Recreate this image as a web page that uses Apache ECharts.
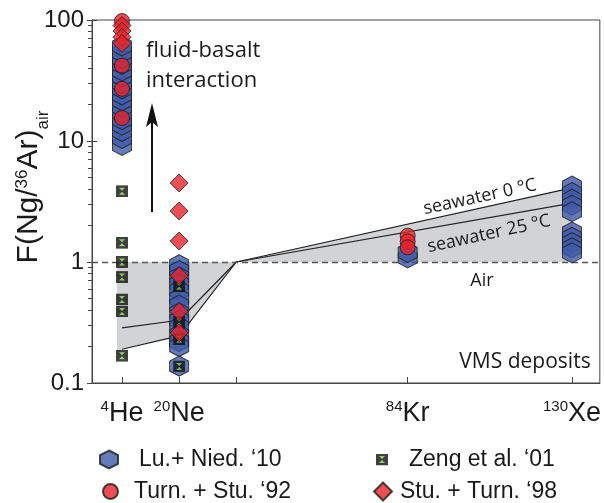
<!DOCTYPE html>
<html><head><meta charset="utf-8">
<script src="https://cdn.jsdelivr.net/npm/echarts@6/dist/echarts.min.js"></script>
<style>html,body{margin:0;padding:0;background:#fff}#c{width:604px;height:503px}</style>
</head><body><div id="c"></div>
<script>
// ---- axis definitions (x = isotope mass) ----
const massHe = 4, massNe = 20, massAr = 36, massKr = 84, massXe = 130;
const xTickValues = [4, 20, 36, 84, 130];
const xTickSup = ['4', '20', '', '84', '130'];
const xTickName = ['He', 'Ne', '', 'Kr', 'Xe'];
const xLabelValues = [4, 20, 84, 130];
const yMajorTicks = [0.1, 1, 10, 100];
const yMinorTicks = [0.2,0.3,0.4,0.5,0.6,0.7,0.8,0.9,2,3,4,5,6,7,8,9,20,30,40,50,60,70,80,90];

// ---- data ----
const luHe = [9.2, 10.5, 12, 13.5, 15, 17, 19, 21.5, 24, 27, 30, 34, 38, 43, 48, 54, 61];
const luNe = [0.95, 0.85, 0.75, 0.66, 0.58, 0.5, 0.44, 0.38, 0.33, 0.29, 0.25, 0.22, 0.2, 0.138];
const luKr = [1.08, 1.2];
const luXe = [4.25, 3.75, 3.3, 2.95, 2.6, 1.77, 1.6, 1.45, 1.31, 1.19];
const turnHe = [98, 42, 27, 15.5];
const turnKr = [1.65, 1.48, 1.32];
const zengHe = [3.85, 1.44, 1.0, 0.75, 0.49, 0.39, 0.168];
const zengNe = [0.63, 0.32, 0.23, 0.137];
const stuHe = [90, 81, 72, 64];
const stuNe = [4.5, 2.64, 1.49, 0.77, 0.39, 0.26];

const seawater0 = [[4, 0.19], [20, 0.245], [36, 1], [130, 4.1]];
const seawater25 = [[4, 0.285], [20, 0.33], [36, 1], [130, 3.07]];
const shadeLeft = [[2.6, 1], [36, 1], [20, 0.245], [4, 0.19], [2.6, 0.175]];
const shadeRight = [[36, 1], [130, 4.1], [130, 1]];
const airValue = 1;

const names = ['Lu.+ Nied. \u201810', 'Turn. + Stu. \u201892', 'Zeng et al. \u201801', 'Stu. + Turn. \u201898'];

const pts = (m, arr) => arr.map(v => [m, v]);
const hexPath = 'path://M0,0 L10,5 L10,15 L0,20 L-10,15 L-10,5 Z';
const zengSvg = "<svg xmlns='http://www.w3.org/2000/svg' width='24' height='24'><rect x='0' y='0' width='24' height='24' fill='#111'/><path d='M6,5 L18,5 L12,11 Z M6,19 L18,19 L12,13 Z' fill='#7ec242'/></svg>";
const zengSym = 'image://data:image/svg+xml;charset=utf-8,' + encodeURIComponent(zengSvg);

const STROKE = '#1c1c1c', BLUE = '#3e5aa8', RED = '#e6232b';
const F = 'Liberation Sans';
const AF = 'Open Sans';

function polySeries(points) {
  return {
    type: 'custom', coordinateSystem: 'cartesian2d', data: points, silent: true, z: 1,
    renderItem: (params, api) => {
      if (params.dataIndex !== 0) return null;
      return { type: 'polygon', shape: { points: points.map(p => api.coord(p)) }, style: { fill: '#d2d3d5' } };
    }
  };
}

const chart = echarts.init(document.getElementById('c'), null, { renderer: 'canvas' });
const legendText = (pad) => ({ fontFamily: F, fontSize: 23, color: '#1a1a1a', padding: [0, 0, 0, pad] });
const yBase = { type: 'log', logBase: 10, min: 0.1, max: 100, position: 'left', splitLine: { show: false } };

chart.setOption({
  animation: false,
  backgroundColor: '#fff',
  grid: { left: 92, right: 4, top: 20, bottom: 120, show: true, borderColor: '#444', borderWidth: 1 },
  xAxis: {
    type: 'value', min: -4.4, max: 137.8,
    axisLine: { show: true, onZero: false, lineStyle: { color: '#444' } },
    splitLine: { show: false },
    axisTick: { inside: true, length: 6, customValues: xTickValues, lineStyle: { color: '#444' } },
    axisLabel: {
      customValues: xLabelValues, margin: 16,
      formatter: v => { const i = xTickValues.indexOf(v); return '{sup|' + xTickSup[i] + '}{base|' + xTickName[i] + '}'; },
      rich: {
        sup: { fontFamily: F, fontSize: 15, color: '#1a1a1a', verticalAlign: 'top', lineHeight: 16 },
        base: { fontFamily: F, fontSize: 27, color: '#1a1a1a', lineHeight: 30 }
      }
    }
  },
  yAxis: [Object.assign({}, yBase, {
    axisLine: { show: true, onZero: false, lineStyle: { color: '#444' } },
    axisTick: { inside: false, length: 5, customValues: yMajorTicks, lineStyle: { color: '#444' } },
    axisLabel: { customValues: yMajorTicks, fontFamily: F, fontSize: 24, color: '#1a1a1a', margin: 8,
      formatter: v => String(v) }
  }), Object.assign({}, yBase, {
    axisLine: { show: false, onZero: false }, axisLabel: { show: false },
    axisTick: { inside: false, length: 4, customValues: yMinorTicks, lineStyle: { color: '#444' } }
  }), Object.assign({}, yBase, {
    axisLine: { show: false, onZero: false }, axisLabel: { show: false },
    axisTick: { inside: true, length: 5, customValues: yMajorTicks, lineStyle: { color: '#444' } }
  })],
  legend: [
    { data: [names[0]], left: 94, top: 443, itemWidth: 18, itemHeight: 22, textStyle: legendText(16) },
    { data: [names[1]], left: 97, top: 475, itemWidth: 15, itemHeight: 15, textStyle: legendText(11) },
    { data: [names[2]], left: 371, top: 443, itemWidth: 12, itemHeight: 12, textStyle: legendText(16) },
    { data: [names[3]], left: 368, top: 475, itemWidth: 18, itemHeight: 18, textStyle: legendText(3) }
  ],
  series: [
    polySeries(shadeLeft),
    polySeries(shadeRight),
    { type: 'line', data: seawater0, symbol: 'none', silent: true, z: 3,
      lineStyle: { color: '#222', width: 1.2 },
      markLine: { silent: true, symbol: 'none', label: { show: false },
        lineStyle: { color: '#555', type: [6, 4], width: 1.3 }, data: [{ yAxis: airValue }] } },
    { type: 'line', data: seawater25, symbol: 'none', silent: true, z: 3, lineStyle: { color: '#222', width: 1.2 } },
    { name: names[0], type: 'scatter', z: 5, symbol: hexPath, symbolSize: [19, 20],
      itemStyle: { color: BLUE, borderColor: STROKE, borderWidth: 1 },
      data: [].concat(pts(massHe, luHe), pts(massNe, luNe), pts(massKr, luKr), pts(massXe, luXe)) },
    { name: names[2], type: 'scatter', z: 6, symbol: zengSym, symbolSize: 12,
      itemStyle: { color: '#111' },
      data: [].concat(pts(massHe, zengHe), pts(massNe, zengNe)) },
    { name: names[1], type: 'scatter', z: 7, symbol: 'circle', symbolSize: 15,
      itemStyle: { color: RED, borderColor: STROKE, borderWidth: 1 },
      data: [].concat(pts(massHe, turnHe), pts(massKr, turnKr)) },
    { name: names[3], type: 'scatter', z: 8, symbol: 'diamond', symbolSize: 18,
      itemStyle: { color: RED, borderColor: STROKE, borderWidth: 1 },
      data: [].concat(pts(massHe, stuHe), pts(massNe, stuNe)) }
  ],
  graphic: [
    { type: 'text', x: 29, y: 187, rotation: Math.PI / 2, z: 10,
      style: { text: 'F(Ng/{sup|36}Ar){sub|air}', fontFamily: F, fontSize: 30, fill: '#1a1a1a', align: 'center', verticalAlign: 'middle',
        rich: { sup: { fontFamily: F, fontSize: 17, verticalAlign: 'top', lineHeight: 17, fill: '#1a1a1a' },
                sub: { fontFamily: F, fontSize: 17, verticalAlign: 'bottom', lineHeight: 17, fill: '#1a1a1a', padding: [0, 0, -8, 0] } } } },
    { type: 'text', x: 146, y: 36, z: 10, style: { text: 'fluid-basalt\ninteraction', fontFamily: AF, fontSize: 22, lineHeight: 30, fill: '#1a1a1a' } },
    { type: 'line', z: 10, shape: { x1: 152, y1: 212, x2: 152, y2: 115 }, style: { stroke: '#111', lineWidth: 2 } },
    { type: 'polygon', z: 10, shape: { points: [[152, 103], [158, 127], [152, 122], [146, 127]] }, style: { fill: '#111' } },
    { type: 'text', x: 480, y: 197, rotation: 12.3 * Math.PI / 180, z: 10,
      style: { text: 'seawater 0 \u00B0C', fontFamily: AF, fontSize: 18, fill: '#1a1a1a', align: 'center', verticalAlign: 'middle' } },
    { type: 'text', x: 489, y: 234, rotation: 12.3 * Math.PI / 180, z: 10,
      style: { text: 'seawater 25 \u00B0C', fontFamily: AF, fontSize: 18, fill: '#1a1a1a', align: 'center', verticalAlign: 'middle' } },
    { type: 'text', x: 482, y: 281, z: 10, style: { text: 'Air', fontFamily: AF, fontSize: 18, fill: '#1a1a1a', align: 'center', verticalAlign: 'middle' } },
    { type: 'text', x: 525, y: 362, z: 10, style: { text: 'VMS deposits', fontFamily: AF, fontSize: 21, fill: '#1a1a1a', align: 'center', verticalAlign: 'middle' } }
  ]
});
</script></body></html>
